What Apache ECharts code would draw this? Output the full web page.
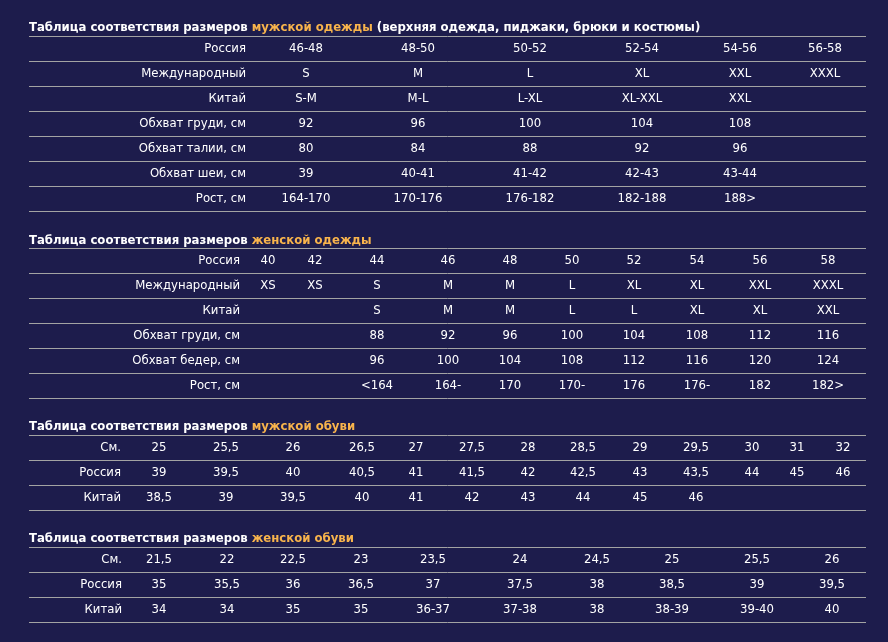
<!DOCTYPE html>
<html><head><meta charset="utf-8">
<script src="https://cdn.jsdelivr.net/npm/echarts@6/dist/echarts.min.js"></script>
<style>html,body{margin:0;padding:0;background:#1d1c4c}#c{width:888px;height:642px}</style>
</head><body><div id="c"></div>
<script>
// ---- titles ----
const titleLead = 'Таблица соответствия размеров ';
const titleHighlights = ['мужской одежды', 'женской одежды', 'мужской обуви', 'женской обуви'];
const titleTails = [' (верхняя одежда, пиджаки, брюки и костюмы)', '', '', ''];

// ---- men clothing ----
const menClothRows = ['Россия', 'Международный', 'Китай', 'Обхват груди, см', 'Обхват талии, см', 'Обхват шеи, см', 'Рост, см'];
const menRussia = ['46-48', '48-50', '50-52', '52-54', '54-56', '56-58'];
const menIntl = ['S', 'M', 'L', 'XL', 'XXL', 'XXXL'];
const menChina = ['S-M', 'M-L', 'L-XL', 'XL-XXL', 'XXL', ''];
const menChest = ['92', '96', '100', '104', '108', ''];
const menWaist = ['80', '84', '88', '92', '96', ''];
const menNeck = ['39', '40-41', '41-42', '42-43', '43-44', ''];
const menHeight = ['164-170', '170-176', '176-182', '182-188', '188>', ''];

// ---- women clothing ----
const womenClothRows = ['Россия', 'Международный', 'Китай', 'Обхват груди, см', 'Обхват бедер, см', 'Рост, см'];
const womenRussia = ['40', '42', '44', '46', '48', '50', '52', '54', '56', '58'];
const womenIntl = ['XS', 'XS', 'S', 'M', 'M', 'L', 'XL', 'XL', 'XXL', 'XXXL'];
const womenChina = ['', '', 'S', 'M', 'M', 'L', 'L', 'XL', 'XL', 'XXL'];
const womenChest = ['', '', '88', '92', '96', '100', '104', '108', '112', '116'];
const womenHips = ['', '', '96', '100', '104', '108', '112', '116', '120', '124'];
const womenHeight = ['', '', '<164', '164-', '170', '170-', '176', '176-', '182', '182>'];

// ---- men shoes ----
const menShoeRows = ['См.', 'Россия', 'Китай'];
const menShoeCm = ['25', '25,5', '26', '26,5', '27', '27,5', '28', '28,5', '29', '29,5', '30', '31', '32'];
const menShoeRu = ['39', '39,5', '40', '40,5', '41', '41,5', '42', '42,5', '43', '43,5', '44', '45', '46'];
const menShoeCn = ['38,5', '39', '39,5', '40', '41', '42', '43', '44', '45', '46', '', '', ''];

// ---- women shoes ----
const womenShoeRows = ['См.', 'Россия', 'Китай'];
const womenShoeCm = ['21,5', '22', '22,5', '23', '23,5', '24', '24,5', '25', '25,5', '26'];
const womenShoeRu = ['35', '35,5', '36', '36,5', '37', '37,5', '38', '38,5', '39', '39,5'];
const womenShoeCn = ['34', '34', '35', '35', '36-37', '37-38', '38', '38-39', '39-40', '40'];

// ---- layout (column centres in px, label column right edge, table top) ----
const TABLE_LEFT = 29, TABLE_RIGHT = 866, ROW_H = 25;
const layouts = [
  { top: 36, titleY: 28, labelRight: 246, centers: [306, 418, 530, 642, 740, 825] },
  { top: 248, titleY: 241, labelRight: 240, centers: [268, 315, 377, 448, 510, 572, 634, 697, 760, 828] },
  { top: 435, titleY: 427, labelRight: 121, centers: [159, 226, 293, 362, 416, 472, 528, 583, 640, 696, 752, 797, 843] },
  { top: 547, titleY: 539, labelRight: 122, centers: [159, 227, 293, 361, 433, 520, 597, 672, 757, 832] }
];

const tables = [
  { rows: menClothRows, data: [menRussia, menIntl, menChina, menChest, menWaist, menNeck, menHeight] },
  { rows: womenClothRows, data: [womenRussia, womenIntl, womenChina, womenChest, womenHips, womenHeight] },
  { rows: menShoeRows, data: [menShoeCm, menShoeRu, menShoeCn] },
  { rows: womenShoeRows, data: [womenShoeCm, womenShoeRu, womenShoeCn] }
];

const FONT = '"DejaVu Sans Condensed", "DejaVu Sans", sans-serif';
const TEXT = '#ffffff', ORANGE = '#f8b44c', LINE = '#a3a3a3', BG = '#1d1c4c';
const FS = 13;

const title = [], grid = [], xAxis = [], yAxis = [], series = [];
tables.forEach((t, i) => {
  const L = layouts[i];
  title.push({
    left: TABLE_LEFT, top: L.titleY - 8, padding: 0,
    text: '{w|' + titleLead + '}{o|' + titleHighlights[i] + '}' + (titleTails[i] ? '{w|' + titleTails[i] + '}' : ''),
    textStyle: {
      rich: {
        w: { color: TEXT, fontWeight: 'bold', fontSize: FS, fontFamily: FONT, lineHeight: 16 },
        o: { color: ORANGE, fontWeight: 'bold', fontSize: FS, fontFamily: FONT, lineHeight: 16 }
      }
    }
  });
  grid.push({
    left: TABLE_LEFT, width: TABLE_RIGHT - TABLE_LEFT, top: L.top, height: t.rows.length * ROW_H,
    outerBoundsMode: 'none', containLabel: false
  });
  xAxis.push({
    gridIndex: i, type: 'value', min: 0, max: TABLE_RIGHT - TABLE_LEFT,
    show: false
  });
  yAxis.push({
    gridIndex: i, type: 'category', data: t.rows, inverse: true, boundaryGap: true,
    offset: -(L.labelRight - TABLE_LEFT),
    axisLine: { show: false }, axisTick: { show: false },
    axisLabel: { margin: 0, color: TEXT, fontFamily: FONT, fontSize: FS, interval: 0 },
    splitLine: { show: true, interval: 0, lineStyle: { color: LINE, width: 1 } }
  });
  const pts = [];
  t.data.forEach((rowVals, r) => {
    rowVals.forEach((txt, c) => {
      if (txt !== '') pts.push([L.centers[c] - TABLE_LEFT, r, txt]);
    });
  });
  series.push({
    type: 'scatter', xAxisIndex: i, yAxisIndex: i, data: pts,
    symbolSize: 1, itemStyle: { color: BG, opacity: 1 },
    silent: true, animation: false,
    label: {
      show: true, position: 'inside', formatter: p => p.value[2],
      color: TEXT, opacity: 1, fontFamily: FONT, fontSize: FS
    },
    labelLayout: { hideOverlap: false }
  });
});

const chart = echarts.init(document.getElementById('c'), null, { renderer: 'canvas' });
chart.setOption({
  backgroundColor: BG, animation: false,
  title, grid, xAxis, yAxis, series
});
</script></body></html>
